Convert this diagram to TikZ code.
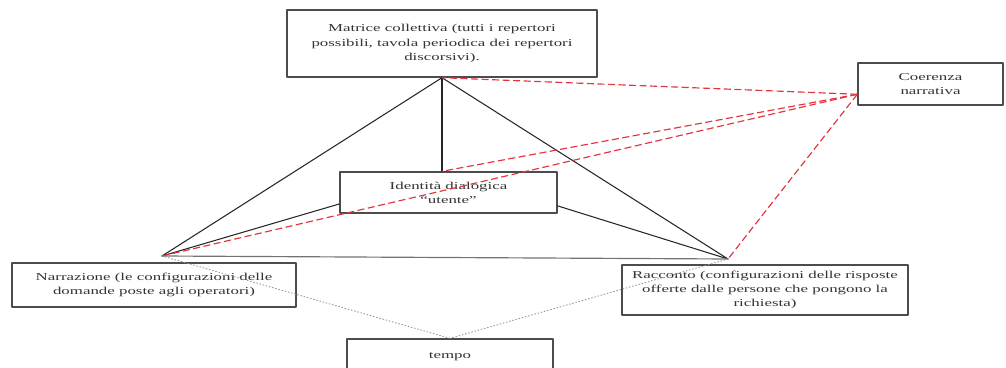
\documentclass[tikz,border=0pt]{standalone}
\usepackage{fontspec}
\setmainfont{Liberation Serif}[FakeStretch=1.6]
\definecolor{coerred}{RGB}{228,52,62}
\begin{document}
\begin{tikzpicture}[x=0.3mm,y=-0.3mm,font=\fontsize{9}{12}\selectfont,line join=round,line cap=round,
    box/.style={draw=black!70,line width=1.2pt,align=center,text=black!80,inner sep=1pt},
    side/.style={draw=black!85,line width=0.9pt},
    coer/.style={draw=coerred,line width=1pt,dash pattern=on 6pt off 3pt,line cap=butt},
    tempoline/.style={draw=black!40,line width=0.8pt,dotted}]
    \useasboundingbox (0,0) rectangle (1006,368);
    % caselle
    \node[box,minimum width=93mm,minimum height=20.1mm] (matrice) at (442,43.5)
        {Matrice collettiva (tutti i repertori\\ possibili, tavola periodica dei repertori\\ discorsivi).};
    \node[box,minimum width=43.5mm,minimum height=12.6mm] (coerenza) at (930.5,84)
        {Coerenza\\ narrativa};
    \node[box,minimum width=65.1mm,minimum height=12.3mm] (identita) at (448.5,192.5)
        {Identità dialogica\\ ``utente''};
    \node[box,minimum width=85.2mm,minimum height=13.2mm] (narrazione) at (154,285)
        {Narrazione (le configurazioni delle\\ domande poste agli operatori)};
    \node[box,minimum width=85.8mm,minimum height=15mm] (racconto) at (765,290)
        {Racconto (configurazioni delle risposte\\ offerte dalle persone che pongono la\\ richiesta)};
    \node[box,minimum width=61.8mm,minimum height=10.8mm] (tempo) at (450,357) {tempo};
    % vertici del triangolo
    \coordinate (A) at (matrice.south);
    \coordinate (I) at (A |- identita.north);
    \coordinate (L) at (162,256);
    \coordinate (R) at (728,259);
    \coordinate (C) at (coerenza.-172);
    \draw[side] (A) -- (L);
    \draw[side] (A) -- (R);
    \draw[side] (A) -- (I);
    \draw[side] (L) -- (identita.-174.5);
    \draw[side] (identita.-7.6) -- (R);
    \draw[draw=black!55,line width=1pt] (L) -- (R);
    % coerenza narrativa
    \draw[coer] (C) -- (A);
    \draw[coer] (C) -- (I);
    \draw[coer] (C) -- (L);
    \draw[coer] (C) -- (R);
    % tempo
    \draw[tempoline] (L) -- (tempo.north);
    \draw[tempoline] (R) -- (tempo.north);
\end{tikzpicture}
\end{document}
